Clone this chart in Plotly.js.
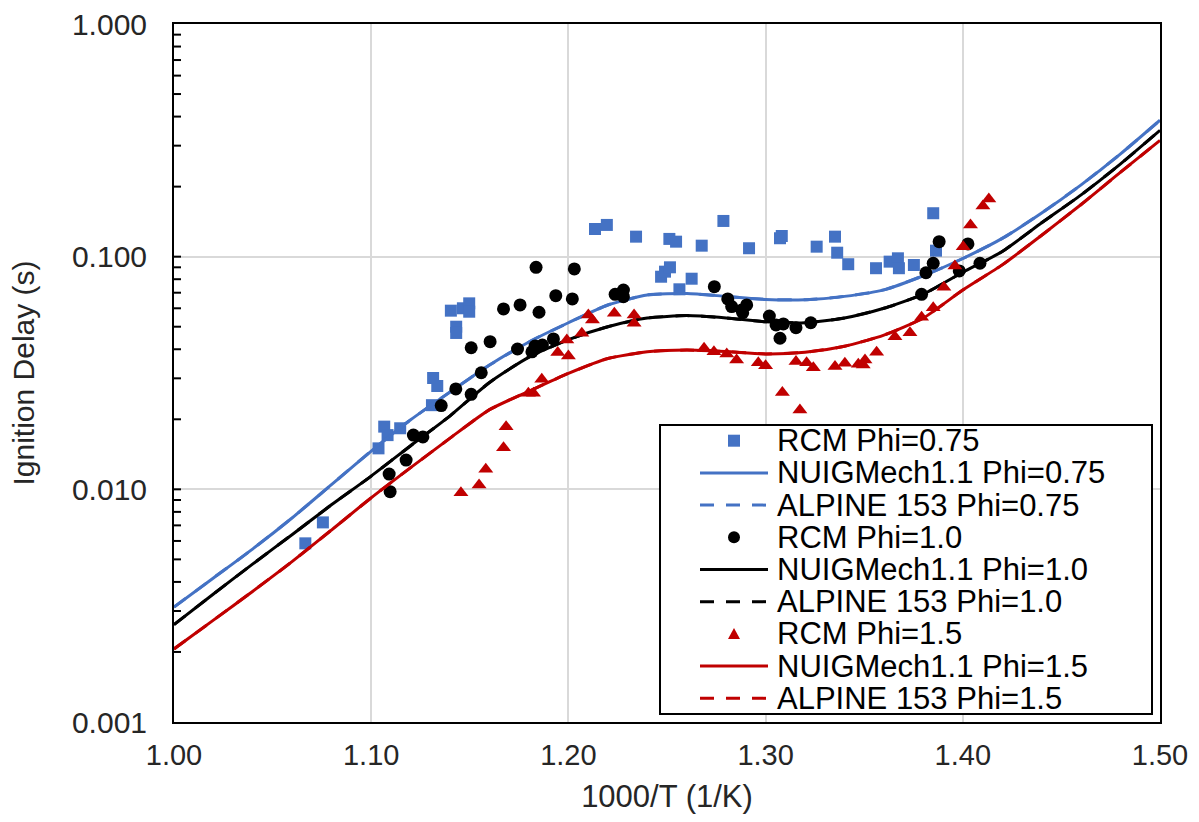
<!DOCTYPE html>
<html><head><meta charset="utf-8">
<script src="https://cdn.plot.ly/plotly-3.0.1.min.js"></script>
<style>html,body{margin:0;padding:0;background:#fff}#chart{width:1199px;height:822px}</style>
</head><body><div id="chart"></div>
<script>
// ---------- data ----------
const rcm075X = [1.0666,1.0755,1.1037,1.1066,1.1083,1.1147,1.1308,1.1314,1.1335,1.1404,1.1465,1.1497,1.1497,1.1431,1.1431,
  1.2135,1.2195,1.2343,1.2512,1.2546,1.2676,1.2786,1.2916,1.3073,1.3082,1.3259,1.3352,1.3363,1.3419,
  1.2470,1.2490,1.2515,1.2563,1.2625,1.3560,1.3629,1.3671,1.3676,1.3752,1.3850,1.3864];
const rcm075Y = [0.00586,0.00721,0.0150,0.0186,0.0171,0.0183,0.0230,0.0301,0.0278,0.0586,0.0600,0.0630,0.0580,0.0500,0.0470,
  0.1315,0.1369,0.1219,0.1192,0.1160,0.1115,0.1424,0.1087,0.1200,0.1227,0.1104,0.1219,0.1040,0.0928,
  0.0820,0.0862,0.0900,0.0724,0.0804,0.0892,0.0952,0.0984,0.0892,0.0921,0.1537,0.1061];

const rcm10X = [1.1091,1.1096,1.1177,1.1214,1.1262,1.1355,1.1429,1.1507,
  1.1836,1.2030,1.1936,1.2020,1.1671,1.1755,1.1851,1.1507,1.1603,1.1742,1.1815,1.1831,1.1868,1.1924,1.1558,
  1.2237,1.2279,1.2279,1.2740,1.2808,1.2828,1.2879,1.2904,1.2884,1.3019,1.3053,1.3073,1.3090,1.3154,1.3229,
  1.3880,1.4026,1.3850,1.3813,1.3982,1.4087,1.3791];
const rcm10Y = [0.01163,0.00977,0.01336,0.0171,0.0168,0.0229,0.0270,0.0256,
  0.0900,0.0886,0.0680,0.0658,0.0596,0.0620,0.0577,0.0406,0.0431,0.0401,0.0390,0.0413,0.0417,0.0443,0.0317,
  0.0689,0.0719,0.0673,0.0743,0.0658,0.0610,0.0590,0.0620,0.0574,0.0556,0.0509,0.0446,0.0514,0.0495,0.0520,
  0.1160,0.1134,0.0937,0.0853,0.0868,0.0937,0.0689];

const rcm15X = [1.1455,1.1547,1.1581,1.1671,1.1684,1.1797,1.1823,1.1865,1.1946,1.2000,1.1992,1.2068,1.2101,1.2122,1.2233,1.2333,1.2333,
  1.2688,1.2738,1.2803,1.2853,1.2963,1.3000,1.3154,1.3208,1.3242,1.3352,1.3402,1.3470,1.3085,1.3174,
  1.3495,1.3504,1.3563,1.3656,1.3732,1.3791,1.3850,1.3904,1.3960,1.4002,1.4039,1.4102,1.4132];
const rcm15Y = [0.00967,0.01043,0.0122,0.0151,0.0186,0.0259,0.0259,0.0297,0.0387,0.0374,0.0438,0.0469,0.0562,0.0534,0.0571,0.0562,0.0517,
  0.0404,0.0390,0.0382,0.0360,0.0350,0.0340,0.0354,0.0350,0.0333,0.0337,0.0348,0.0345,0.0261,0.0219,
  0.0342,0.0360,0.0388,0.0453,0.0471,0.0549,0.0603,0.0739,0.0912,0.1104,0.1369,0.165,0.177];

const modelX = [1.00,1.02,1.04,1.06,1.08,1.10,1.12,1.14,1.16,1.18,1.20,1.22,1.24,1.26,1.28,1.30,1.32,1.34,1.36,1.38,1.40,1.42,1.44,1.46,1.48,1.50];
const nuig075Y = [0.00312,0.00416,0.00555,0.00755,0.0105,0.0146,0.0199,0.0262,0.0342,0.0430,0.0520,0.0620,0.0685,0.0695,0.0675,0.0655,0.0653,0.0675,0.0720,0.0828,0.0982,0.1198,0.1540,0.2035,0.2766,0.3860];
const nuig10Y  = [0.00262,0.00355,0.00478,0.00640,0.0086,0.0114,0.0154,0.0207,0.0288,0.0370,0.0440,0.0500,0.0545,0.0558,0.0545,0.0525,0.0520,0.0545,0.0600,0.0690,0.0857,0.1052,0.1398,0.1843,0.2505,0.3490];
const nuig15Y  = [0.00206,0.00274,0.00365,0.00490,0.00670,0.0092,0.0124,0.0166,0.0220,0.0264,0.0315,0.0365,0.0390,0.0397,0.0391,0.0382,0.0388,0.0412,0.0460,0.0545,0.0719,0.0922,0.1236,0.1676,0.2307,0.3160];
// ALPINE 153 curves coincide with the NUIGMech1.1 curves in the picture
const alpine075Y = nuig075Y.slice();
const alpine10Y  = nuig10Y.slice();
const alpine15Y  = nuig15Y.slice();

const xTickVals = [1.0,1.1,1.2,1.3,1.4,1.5];
const xTickText = ['1.00','1.10','1.20','1.30','1.40','1.50'];
const yTickVals = [0.001,0.01,0.1,1];
const yTickText = ['0.001','0.010','0.100','1.000'];

const legendLabels = ['RCM Phi=0.75','NUIGMech1.1 Phi=0.75','ALPINE 153 Phi=0.75',
  'RCM Phi=1.0','NUIGMech1.1 Phi=1.0','ALPINE 153 Phi=1.0',
  'RCM Phi=1.5','NUIGMech1.1 Phi=1.5','ALPINE 153 Phi=1.5'];

// ---------- styling ----------
const BLUE = '#4472C4', BLACK = '#000000', RED = '#C00000';
const FONT = 'Liberation Sans, Arial, sans-serif';
const TXT = '#262626';
const W = 1199, H = 822, ML = 174, MR = 39, MT = 24, MB = 100;
const PW = W - ML - MR, PH = H - MT - MB;
const Y_LOG_MIN = -3, Y_LOG_MAX = 0;
const px2x = p => (p - ML) / PW;
const px2y = p => (H - MB - p) / PH;
const val2paperY = v => (Math.log10(v) - Y_LOG_MIN) / (Y_LOG_MAX - Y_LOG_MIN);

const legendKinds = ['square','solid','dash','circle','solid','dash','triangle','solid','dash'];
const legendColors = [BLUE,BLUE,BLUE,BLACK,BLACK,BLACK,RED,RED,RED];
const SM = 0.6;

const traces = [
  {x: rcm075X, y: rcm075Y, mode:'markers', name: legendLabels[0], marker:{symbol:'square', size:12, color:BLUE}},
  {x: modelX, y: nuig075Y, mode:'lines', name: legendLabels[1], line:{color:BLUE, width:3, shape:'spline', smoothing:SM}},
  {x: modelX, y: alpine075Y, mode:'lines', name: legendLabels[2], line:{color:BLUE, width:3, dash:'14px,12px', shape:'spline', smoothing:SM}},
  {x: rcm10X, y: rcm10Y, mode:'markers', name: legendLabels[3], marker:{symbol:'circle', size:13, color:BLACK}},
  {x: modelX, y: nuig10Y, mode:'lines', name: legendLabels[4], line:{color:BLACK, width:3, shape:'spline', smoothing:SM}},
  {x: modelX, y: alpine10Y, mode:'lines', name: legendLabels[5], line:{color:BLACK, width:3, dash:'14px,12px', shape:'spline', smoothing:SM}},
  {x: rcm15X, y: rcm15Y, mode:'markers', name: legendLabels[6], marker:{symbol:'triangle-up', size:13, color:RED}},
  {x: modelX, y: nuig15Y, mode:'lines', name: legendLabels[7], line:{color:RED, width:3, shape:'spline', smoothing:SM}},
  {x: modelX, y: alpine15Y, mode:'lines', name: legendLabels[8], line:{color:RED, width:3, dash:'14px,12px', shape:'spline', smoothing:SM}}
];
traces.forEach(t => { t.showlegend = false; t.hoverinfo = 'x+y+name'; });

const shapes = [];
const annotations = [];

// inside tick marks on the log axis: 1..9 in each decade
for (let e = Y_LOG_MIN; e < Y_LOG_MAX; e++) {
  for (let d = 1; d <= 9; d++) {
    if (e === Y_LOG_MIN && d === 1) continue;
    const py = val2paperY(d * Math.pow(10, e));
    shapes.push({type:'line', xref:'paper', yref:'paper', x0:0, x1:7 / PW, y0:py, y1:py,
      line:{color:'#000', width:2}, layer:'above'});
  }
}

// custom legend (box, samples and labels)
const legTop = 440.7, legStep = 32.2, symX = 734, lineX0 = 700, lineX1 = 768, textX = 775;
shapes.push({type:'rect', xref:'paper', yref:'paper', x0:px2x(660), x1:px2x(1152), y0:px2y(714), y1:px2y(425),
  line:{color:'#000', width:2}, fillcolor:'#fff', layer:'above'});
legendLabels.forEach((lab, i) => {
  const py = legTop + i * legStep;
  const yc = px2y(py);
  const kind = legendKinds[i], col = legendColors[i];
  if (kind === 'solid' || kind === 'dash') {
    shapes.push({type:'line', xref:'paper', yref:'paper', x0:px2x(lineX0), x1:px2x(lineX1), y0:yc, y1:yc,
      line:{color:col, width:3, dash: kind === 'dash' ? '14px,12px' : 'solid'}, layer:'above'});
  } else if (kind === 'square') {
    shapes.push({type:'rect', xref:'paper', yref:'paper', xsizemode:'pixel', ysizemode:'pixel',
      xanchor:px2x(symX), yanchor:yc, x0:-6, x1:6, y0:-6, y1:6, fillcolor:col, line:{width:0}, layer:'above'});
  } else if (kind === 'circle') {
    shapes.push({type:'circle', xref:'paper', yref:'paper', xsizemode:'pixel', ysizemode:'pixel',
      xanchor:px2x(symX), yanchor:yc, x0:-6, x1:6, y0:-6, y1:6, fillcolor:col, line:{width:0}, layer:'above'});
  } else {
    shapes.push({type:'path', xref:'paper', yref:'paper', xsizemode:'pixel', ysizemode:'pixel',
      xanchor:px2x(symX), yanchor:yc, path:'M-6,-5L6,-5L0,6Z', fillcolor:col, line:{width:0}, layer:'above'});
  }
  annotations.push({xref:'paper', yref:'paper', x:px2x(textX), y:yc, xanchor:'left', yanchor:'middle',
    text:lab, showarrow:false, font:{family:FONT, size:31, color:'#000'}});
});

const layout = {
  width: W, height: H,
  margin: {l:ML, r:MR, t:MT, b:MB, pad:0},
  paper_bgcolor:'#fff', plot_bgcolor:'#fff',
  font: {family: FONT, color: TXT},
  showlegend: false,
  xaxis: {
    range:[1.0,1.5], tickmode:'array', tickvals:xTickVals, ticktext:xTickText,
    ticks:'', showgrid:true, gridcolor:'#d9d9d9', gridwidth:2,
    showline:true, linecolor:'#000', linewidth:2, mirror:true, zeroline:false,
    tickfont:{family:FONT, size:29, color:TXT}, ticklabelstandoff:6,
    title:{text:'1000/T (1/K)', font:{family:FONT, size:31, color:TXT}, standoff:16}
  },
  yaxis: {
    type:'log', range:[Y_LOG_MIN, Y_LOG_MAX], tickmode:'array', tickvals:yTickVals, ticktext:yTickText,
    ticks:'',
    showgrid:true, gridcolor:'#d9d9d9', gridwidth:2,
    showline:true, linecolor:'#000', linewidth:2, mirror:true, zeroline:false,
    tickfont:{family:FONT, size:30, color:TXT}, ticklabelstandoff:19,
    title:{text:'Ignition Delay (s)', font:{family:FONT, size:30, color:TXT}, standoff:28}
  },
  shapes: shapes,
  annotations: annotations
};

Plotly.newPlot('chart', traces, layout, {displayModeBar:false, staticPlot:true});
</script>
</body></html>
